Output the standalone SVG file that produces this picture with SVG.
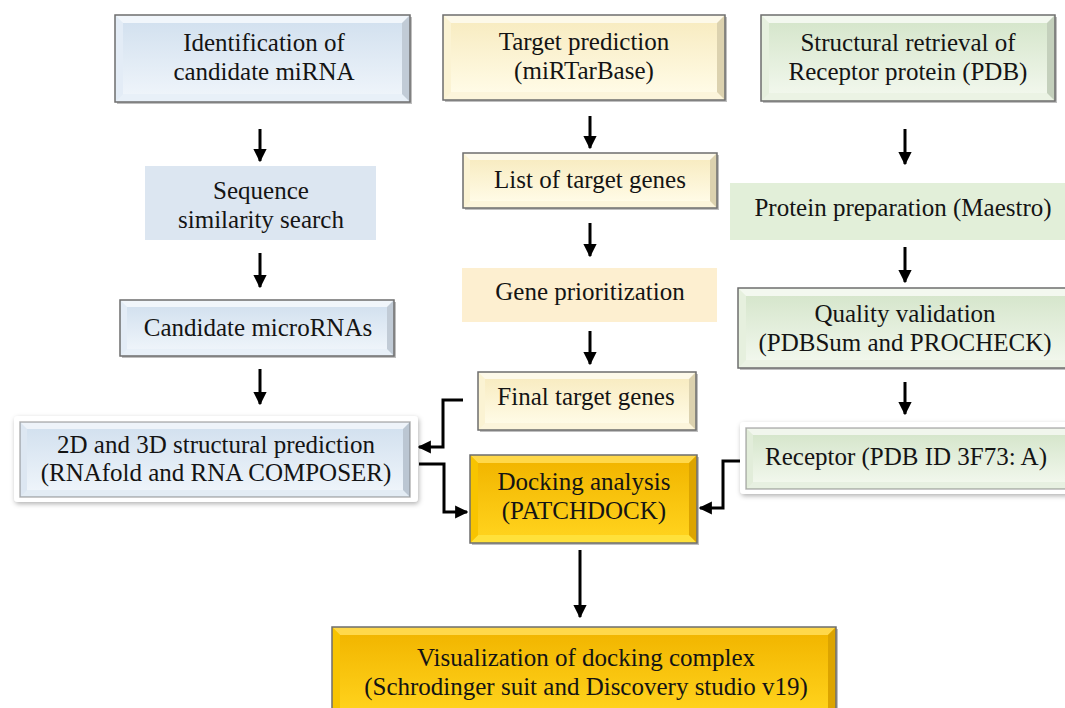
<svg xmlns="http://www.w3.org/2000/svg" width="1065" height="708" viewBox="0 0 1065 708">
  <defs>
    <style>
      .t { font-family: "Liberation Serif", "Times New Roman", serif; font-size: 25px; fill: #141414; text-anchor: middle; }
      .edge { fill: none; stroke: #000; stroke-width: 3; }
      .frame { fill: none; stroke: #6e6e6e; stroke-width: 1.5; }
      .shadow { fill: #8a8a8a; opacity: 0.55; }
      .hi { fill: #ffffff; opacity: 0.6; }
      .lo { fill: #ffffff; opacity: 0.35; }
      .lf { fill: #ffffff; opacity: 0.2; }
      .rt { fill: #000000; opacity: 0.12; }
      .glow { fill: #ffffff; filter: url(#soft); }
    </style>
    <linearGradient id="gBlue" x1="0" y1="0" x2="0" y2="1">
      <stop offset="0" stop-color="#d3e1ef"/>
      <stop offset="1" stop-color="#eef4fa"/>
    </linearGradient>
    <linearGradient id="gYel" x1="0" y1="0" x2="0" y2="1">
      <stop offset="0" stop-color="#f8ecc2"/>
      <stop offset="1" stop-color="#fffbe6"/>
    </linearGradient>
    <linearGradient id="gGrn" x1="0" y1="0" x2="0" y2="1">
      <stop offset="0" stop-color="#d6e6cc"/>
      <stop offset="1" stop-color="#f1f7ec"/>
    </linearGradient>
    <linearGradient id="gGold" x1="0" y1="0" x2="0" y2="1">
      <stop offset="0" stop-color="#f2b600"/>
      <stop offset="1" stop-color="#ffd21c"/>
    </linearGradient>
    <filter id="soft" x="-10%" y="-20%" width="120%" height="140%">
      <feDropShadow dx="1" dy="2" stdDeviation="2.5" flood-color="#000" flood-opacity="0.3"/>
    </filter>
    <marker id="ah" viewBox="0 0 10 10" refX="9" refY="5" markerWidth="4.4" markerHeight="4.4" orient="auto" markerUnits="strokeWidth">
      <path d="M0,0 L10,5 L0,10 z" fill="#000"/>
    </marker>
  </defs>

  <rect width="1065" height="708" fill="#ffffff"/>

  <!-- connectors -->
  <g id="connectors">
    <line class="edge" x1="260" y1="129" x2="260" y2="161" marker-end="url(#ah)"/>
    <line class="edge" x1="260" y1="253" x2="260" y2="287" marker-end="url(#ah)"/>
    <line class="edge" x1="260" y1="369" x2="260" y2="404" marker-end="url(#ah)"/>
    <line class="edge" x1="590" y1="116" x2="590" y2="148" marker-end="url(#ah)"/>
    <line class="edge" x1="590" y1="223" x2="590" y2="256" marker-end="url(#ah)"/>
    <line class="edge" x1="590" y1="331" x2="590" y2="364" marker-end="url(#ah)"/>
    <line class="edge" x1="905" y1="129" x2="905" y2="164" marker-end="url(#ah)"/>
    <line class="edge" x1="905" y1="247" x2="905" y2="282" marker-end="url(#ah)"/>
    <line class="edge" x1="905" y1="382" x2="905" y2="414" marker-end="url(#ah)"/>
    <line class="edge" x1="580" y1="550" x2="580" y2="617" marker-end="url(#ah)"/>
    <polyline class="edge" points="463,400 443,400 443,447 419,447" marker-end="url(#ah)"/>
    <polyline class="edge" points="419,464 444,464 444,512 467,512" marker-end="url(#ah)"/>
    <polyline class="edge" points="746,461 723,461 723,508 700,508" marker-end="url(#ah)"/>
  </g>

  <!-- Identification of candidate miRNA -->
  <g id="n-identify">
    <rect class="shadow" x="117" y="17" width="295" height="87"/>
    <rect x="115" y="15" width="295" height="87" fill="#dce8f4"/>
    <rect x="123" y="23" width="279" height="71" fill="url(#gBlue)"/>
    <polygon class="hi" points="115,15 410,15 402,23 123,23"/>
    <polygon class="lo" points="115,102 410,102 402,94 123,94"/>
    <polygon class="lf" points="115,15 123,23 123,94 115,102"/>
    <polygon class="rt" points="410,15 402,23 402,94 410,102"/>
    <rect class="frame" x="115" y="15" width="295" height="87"/>
    <text class="t" x="264" y="51">Identification of</text>
    <text class="t" x="264" y="80">candidate miRNA</text>
  </g>

  <!-- Target prediction -->
  <g id="n-target">
    <rect class="shadow" x="445" y="17" width="282" height="85"/>
    <rect x="443" y="15" width="282" height="85" fill="#fbf0c8"/>
    <rect x="451" y="23" width="266" height="69" fill="url(#gYel)"/>
    <polygon class="hi" points="443,15 725,15 717,23 451,23"/>
    <polygon class="lo" points="443,100 725,100 717,92 451,92"/>
    <polygon class="lf" points="443,15 451,23 451,92 443,100"/>
    <polygon class="rt" points="725,15 717,23 717,92 725,100"/>
    <rect class="frame" x="443" y="15" width="282" height="85"/>
    <text class="t" x="584" y="50">Target prediction</text>
    <text class="t" x="584" y="79">(miRTarBase)</text>
  </g>

  <!-- Structural retrieval -->
  <g id="n-structural">
    <rect class="shadow" x="763" y="17" width="294" height="86"/>
    <rect x="761" y="15" width="294" height="86" fill="#e0edd6"/>
    <rect x="769" y="23" width="278" height="70" fill="url(#gGrn)"/>
    <polygon class="hi" points="761,15 1055,15 1047,23 769,23"/>
    <polygon class="lo" points="761,101 1055,101 1047,93 769,93"/>
    <polygon class="lf" points="761,15 769,23 769,93 761,101"/>
    <polygon class="rt" points="1055,15 1047,23 1047,93 1055,101"/>
    <rect class="frame" x="761" y="15" width="294" height="86"/>
    <text class="t" x="908" y="51">Structural retrieval of</text>
    <text class="t" x="908" y="80">Receptor protein (PDB)</text>
  </g>

  <!-- Sequence similarity search -->
  <g id="n-sequence">
    <rect x="145" y="166" width="231" height="74" fill="#dce6f1"/>
    <text class="t" x="261" y="199">Sequence</text>
    <text class="t" x="261" y="228">similarity search</text>
  </g>

  <!-- Candidate microRNAs -->
  <g id="n-candidate">
    <rect class="shadow" x="122" y="302" width="274" height="56"/>
    <rect x="120" y="300" width="274" height="56" fill="#dce8f4"/>
    <rect x="127" y="307" width="260" height="42" fill="url(#gBlue)"/>
    <polygon class="hi" points="120,300 394,300 387,307 127,307"/>
    <polygon class="lo" points="120,356 394,356 387,349 127,349"/>
    <polygon class="lf" points="120,300 127,307 127,349 120,356"/>
    <polygon class="rt" points="394,300 387,307 387,349 394,356"/>
    <rect class="frame" x="120" y="300" width="274" height="56"/>
    <text class="t" x="258" y="336">Candidate microRNAs</text>
  </g>

  <!-- 2D and 3D structural prediction -->
  <g id="n-structure2d3d">
    <rect class="glow" x="14" y="416" width="404" height="86" rx="4"/>
    <rect x="20" y="422" width="390" height="75" fill="#d5e2ef"/>
    <rect x="27" y="429" width="376" height="61" fill="url(#gBlue)"/>
    <polygon class="hi" points="20,422 410,422 403,429 27,429"/>
    <polygon class="lo" points="20,497 410,497 403,490 27,490"/>
    <polygon class="lf" points="20,422 27,429 27,490 20,497"/>
    <polygon class="rt" points="410,422 403,429 403,490 410,497"/>
    <rect class="frame" x="20" y="422" width="390" height="75" stroke-opacity="0.5"/>
    <text class="t" x="216" y="453">2D and 3D structural prediction</text>
    <text class="t" x="216" y="481">(RNAfold and RNA COMPOSER)</text>
  </g>

  <!-- List of target genes -->
  <g id="n-list">
    <rect class="shadow" x="465" y="155" width="254" height="55"/>
    <rect x="463" y="153" width="254" height="55" fill="#fbf0c8"/>
    <rect x="470" y="160" width="240" height="41" fill="url(#gYel)"/>
    <polygon class="hi" points="463,153 717,153 710,160 470,160"/>
    <polygon class="lo" points="463,208 717,208 710,201 470,201"/>
    <polygon class="lf" points="463,153 470,160 470,201 463,208"/>
    <polygon class="rt" points="717,153 710,160 710,201 717,208"/>
    <rect class="frame" x="463" y="153" width="254" height="55"/>
    <text class="t" x="590" y="188">List of target genes</text>
  </g>

  <!-- Gene prioritization -->
  <g id="n-gene">
    <rect x="462" y="268" width="255" height="54" fill="#fdefd0"/>
    <text class="t" x="590" y="300">Gene prioritization</text>
  </g>

  <!-- Final target genes -->
  <g id="n-final">
    <rect class="shadow" x="480" y="374" width="218" height="58"/>
    <rect x="478" y="372" width="218" height="58" fill="#fbf0c8"/>
    <rect x="485" y="379" width="204" height="44" fill="url(#gYel)"/>
    <polygon class="hi" points="478,372 696,372 689,379 485,379"/>
    <polygon class="lo" points="478,430 696,430 689,423 485,423"/>
    <polygon class="lf" points="478,372 485,379 485,423 478,430"/>
    <polygon class="rt" points="696,372 689,379 689,423 696,430"/>
    <rect class="frame" x="478" y="372" width="218" height="58"/>
    <text class="t" x="586" y="405">Final target genes</text>
  </g>

  <!-- Docking analysis -->
  <g id="n-docking">
    <rect class="shadow" x="472" y="457" width="227" height="88"/>
    <rect x="470" y="455" width="227" height="88" fill="#ffc800"/>
    <rect x="478" y="463" width="211" height="72" fill="url(#gGold)"/>
    <polygon points="470,455 697,455 689,463 478,463" fill="#ffd84a"/>
    <polygon points="470,543 697,543 689,535 478,535" fill="#ffe13a"/>
    <polygon points="470,455 478,463 478,535 470,543" fill="#f8c400"/>
    <polygon points="697,455 689,463 689,535 697,543" fill="#dca400"/>
    <rect class="frame" x="470" y="455" width="227" height="88"/>
    <text class="t" x="584" y="490">Docking analysis</text>
    <text class="t" x="584" y="519">(PATCHDOCK)</text>
  </g>

  <!-- Visualization of docking complex -->
  <g id="n-visual">
    <rect class="shadow" x="334" y="629" width="504" height="90"/>
    <rect x="332" y="627" width="504" height="90" fill="#ffc800"/>
    <rect x="340" y="635" width="488" height="74" fill="url(#gGold)"/>
    <polygon points="332,627 836,627 828,635 340,635" fill="#ffd84a"/>
    <polygon points="332,627 340,635 340,709 332,717" fill="#f8c400"/>
    <polygon points="836,627 828,635 828,709 836,717" fill="#dca400"/>
    <rect class="frame" x="332" y="627" width="504" height="90"/>
    <text class="t" x="586" y="666">Visualization of docking complex</text>
    <text class="t" x="586" y="695">(Schrodinger suit and Discovery studio v19)</text>
  </g>

  <!-- Protein preparation -->
  <g id="n-protein">
    <rect x="730" y="183" width="335" height="57" fill="#e2efd9"/>
    <text class="t" x="903" y="216">Protein preparation (Maestro)</text>
  </g>

  <!-- Quality validation -->
  <g id="n-quality">
    <rect class="shadow" x="740" y="290" width="327" height="80"/>
    <rect x="738" y="288" width="327" height="80" fill="#e0edd6"/>
    <rect x="746" y="296" width="319" height="64" fill="url(#gGrn)"/>
    <polygon class="hi" points="738,288 1065,288 1065,296 746,296"/>
    <polygon class="lo" points="738,368 1065,368 1065,360 746,360"/>
    <polygon class="lf" points="738,288 746,296 746,360 738,368"/>
    <rect class="frame" x="738" y="288" width="340" height="80"/>
    <text class="t" x="905" y="322">Quality validation</text>
    <text class="t" x="905" y="351">(PDBSum and PROCHECK)</text>
  </g>

  <!-- Receptor -->
  <g id="n-receptor">
    <rect class="glow" x="740" y="422" width="340" height="72" rx="4"/>
    <rect x="746" y="428" width="330" height="61" fill="#dbe9d1"/>
    <rect x="753" y="435" width="323" height="47" fill="url(#gGrn)"/>
    <polygon class="hi" points="746,428 1076,428 1076,435 753,435"/>
    <polygon class="lo" points="746,489 1076,489 1076,482 753,482"/>
    <polygon class="lf" points="746,428 753,435 753,482 746,489"/>
    <rect class="frame" x="746" y="428" width="340" height="61" stroke-opacity="0.5"/>
    <text class="t" x="906" y="465">Receptor (PDB ID 3F73: A)</text>
  </g>
</svg>
